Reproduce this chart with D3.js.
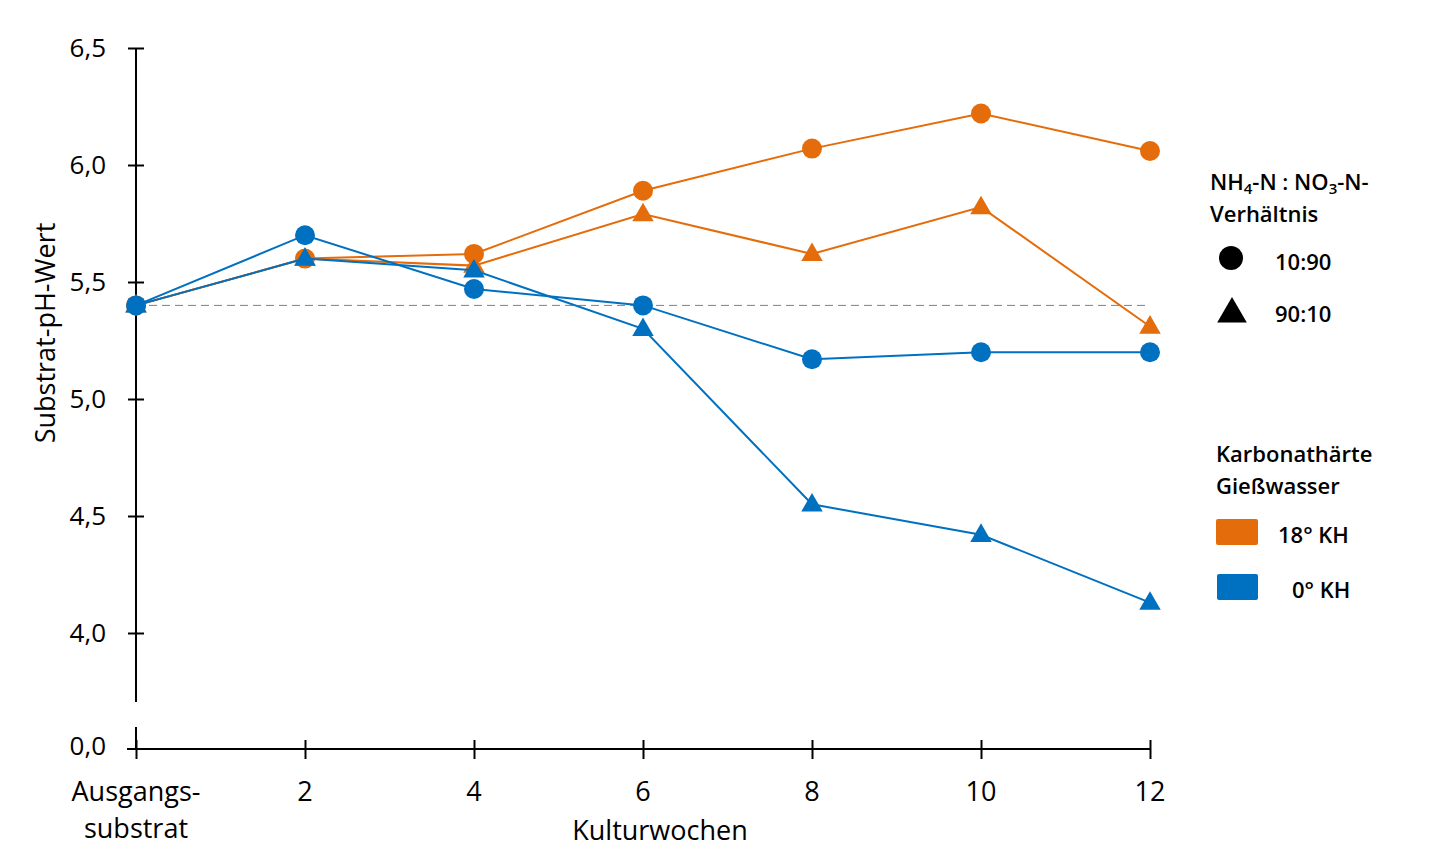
<!DOCTYPE html>
<html>
<head>
<meta charset="utf-8">
<script src="https://cdn.jsdelivr.net/npm/d3@7"></script>
<style>
  body { margin: 0; background: #fff; }
  text { font-family: "Open Sans", "Noto Sans", sans-serif; fill: #000; }
</style>
</head>
<body>
<div id="chart"></div>
<script>
// Kulturwochen (0 = Ausgangssubstrat)
const weeks = [0, 2, 4, 6, 8, 10, 12];
const weekLabels = [["Ausgangs-", "substrat"], ["2"], ["4"], ["6"], ["8"], ["10"], ["12"]];
const yTicks = [4.0, 4.5, 5.0, 5.5, 6.0, 6.5];
const startValue = 5.4;

// Substrat-pH-Wert
const kh18_10_90 = [5.40, 5.60, 5.62, 5.89, 6.07, 6.22, 6.06];
const kh18_90_10 = [5.40, 5.60, 5.57, 5.79, 5.62, 5.82, 5.31];
const kh0_10_90  = [5.40, 5.70, 5.47, 5.40, 5.17, 5.20, 5.20];
const kh0_90_10  = [5.40, 5.60, 5.55, 5.30, 4.55, 4.42, 4.13];

const orange = "#e46c0a";
const blue = "#0070c0";

const series = [
    { values: kh18_10_90, color: orange, shape: "circle" },
    { values: kh18_90_10, color: orange, shape: "triangle" },
    { values: kh0_10_90,  color: blue,   shape: "circle" },
    { values: kh0_90_10,  color: blue,   shape: "triangle" }
];

const width = 1435, height = 866;
const axisX = 136, axisY = 749;

const svg = d3.select("#chart")
    .append("svg")
    .attr("width", width)
    .attr("height", height);

const x = d3.scaleLinear().domain([0, 12]).range([136, 1150]);
const y = d3.scaleLinear().domain([4, 6.5]).range([633, 48]);

// y axis (broken)
const yAxis = svg.append("g")
    .attr("transform", `translate(${axisX},0)`)
    .call(d3.axisLeft(y).tickValues(yTicks).tickSize(8).tickPadding(22)
        .tickFormat(d => d3.format(".1f")(d).replace(".", ",")));
yAxis.select(".domain").remove();
yAxis.selectAll(".tick line").attr("x1", 8).attr("stroke", "#000").attr("stroke-width", 2);
yAxis.selectAll(".tick text")
    .style("font-size", "26px")
    .style("font-weight", 500)
    .style("font-family", "Open Sans");

svg.append("line")
    .attr("x1", axisX).attr("x2", axisX)
    .attr("y1", y(6.5)).attr("y2", 702)
    .attr("stroke", "#000").attr("stroke-width", 2);
svg.append("line")
    .attr("x1", axisX).attr("x2", axisX)
    .attr("y1", 727).attr("y2", axisY)
    .attr("stroke", "#000").attr("stroke-width", 2);
svg.append("text")
    .attr("x", 106).attr("y", axisY - 1)
    .attr("text-anchor", "end")
    .attr("dominant-baseline", "middle")
    .style("font-size", "26px")
    .style("font-weight", 500)
    .text("0,0");

// x axis
const xAxis = svg.append("g")
    .attr("transform", `translate(0,${axisY})`)
    .call(d3.axisBottom(x).tickValues(weeks).tickSize(10).tickFormat(""));
xAxis.select(".domain").attr("d", `M${axisX - 9},0H${x(12)}`).attr("stroke-width", 2);
xAxis.selectAll(".tick line").attr("y1", -9).attr("stroke-width", 2);

const xl = svg.append("g").selectAll("text")
    .data(weeks)
    .enter()
    .append("text")
    .attr("x", d => x(d))
    .attr("y", 801)
    .attr("text-anchor", "middle")
    .style("font-size", "27px")
    .style("font-weight", 500);
xl.selectAll("tspan")
    .data((d, i) => weekLabels[i])
    .enter()
    .append("tspan")
    .attr("x", function() { return this.parentNode.getAttribute("x"); })
    .attr("dy", (d, i) => i === 0 ? 0 : 37)
    .text(d => d);

svg.append("text")
    .attr("x", 660).attr("y", 840)
    .attr("text-anchor", "middle")
    .style("font-size", "27px")
    .style("font-weight", 500)
    .text("Kulturwochen");

svg.append("text")
    .attr("transform", `translate(55,333) rotate(-90)`)
    .attr("text-anchor", "middle")
    .style("font-size", "27px")
    .style("font-weight", 500)
    .text("Substrat-pH-Wert");

// start reference line
svg.append("line")
    .attr("x1", x(0)).attr("x2", x(12))
    .attr("y1", y(startValue)).attr("y2", y(startValue))
    .attr("stroke", "#808080")
    .attr("stroke-width", 1)
    .attr("stroke-dasharray", "8,5");

// series
const line = d3.line().x((d, i) => x(weeks[i])).y(d => y(d));
const triangle = d3.symbol().type(d3.symbolTriangle).size(200);

series.forEach(s => {
    const g = svg.append("g");
    g.append("path")
        .attr("d", line(s.values))
        .attr("fill", "none")
        .attr("stroke", s.color)
        .attr("stroke-width", 2);
    if (s.shape === "circle") {
        g.selectAll("circle")
            .data(s.values)
            .enter()
            .append("circle")
            .attr("cx", (d, i) => x(weeks[i]))
            .attr("cy", d => y(d))
            .attr("r", 10)
            .attr("fill", s.color);
    } else {
        g.selectAll("path.tri")
            .data(s.values)
            .enter()
            .append("path")
            .attr("class", "tri")
            .attr("d", triangle)
            .attr("transform", (d, i) => `translate(${x(weeks[i])},${y(d) + 1})`)
            .attr("fill", s.color);
    }
});

// legend
const legend = svg.append("g").style("font-weight", 600);
const title1 = legend.append("text").attr("x", 1210).attr("y", 190).style("font-size", "22px");
title1.append("tspan").text("NH");
title1.append("tspan").attr("dy", 4).style("font-size", "15px").text("4");
title1.append("tspan").attr("dy", -4).text("-N : NO");
title1.append("tspan").attr("dy", 4).style("font-size", "15px").text("3");
title1.append("tspan").attr("dy", -4).text("-N-");
legend.append("text").attr("x", 1210).attr("y", 222).style("font-size", "22px").text("Verhältnis");

legend.append("circle").attr("cx", 1231).attr("cy", 258).attr("r", 12).attr("fill", "#000");
legend.append("text").attr("x", 1275).attr("y", 270).style("font-size", "22px").text("10:90");
legend.append("path")
    .attr("d", d3.symbol().type(d3.symbolTriangle).size(380))
    .attr("transform", "translate(1232,314)")
    .attr("fill", "#000");
legend.append("text").attr("x", 1275).attr("y", 322).style("font-size", "22px").text("90:10");

legend.append("text").attr("x", 1216).attr("y", 462).style("font-size", "22px").text("Karbonathärte");
legend.append("text").attr("x", 1216).attr("y", 494).style("font-size", "22px").text("Gießwasser");

legend.append("rect").attr("x", 1216).attr("y", 519).attr("width", 42).attr("height", 26).attr("rx", 2).attr("fill", orange);
legend.append("text").attr("x", 1278).attr("y", 543).style("font-size", "22px").text("18° KH");
legend.append("rect").attr("x", 1217).attr("y", 574).attr("width", 41).attr("height", 26).attr("rx", 2).attr("fill", blue);
legend.append("text").attr("x", 1292).attr("y", 598).style("font-size", "22px").text("0° KH");
</script>
</body>
</html>
